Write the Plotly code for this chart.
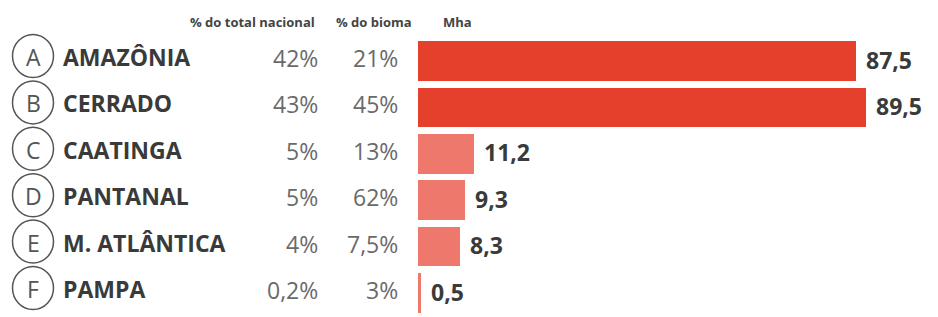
import plotly.graph_objects as go

# ---- data ----
letters = ["A", "B", "C", "D", "E", "F"]
biomes = ["AMAZÔNIA", "CERRADO", "CAATINGA", "PANTANAL", "M. ATLÂNTICA", "PAMPA"]
pct_national = ["42%", "43%", "5%", "5%", "4%", "0,2%"]
pct_biome = ["21%", "45%", "13%", "62%", "7,5%", "3%"]
mha = [87.5, 89.5, 11.2, 9.3, 8.3, 0.5]
headers = ["% do total nacional", "% do bioma", "Mha"]

# ---- style ----
# the page body has an 8px default margin, so the figure is drawn 8px smaller
OFF = 8
W, H = 938 - OFF, 317 - OFF
DARK = "#e4402c"
LIGHT = "#ee786c"
bar_colors = [DARK if v > 50 else LIGHT for v in mha]
FONT = "Open Sans"
TXT_DARK = "#3a3a3a"
TXT_GRAY = "#6a6a6a"


def px(x):
    """reference-page x pixel -> paper fraction"""
    return (x - OFF) / W


PITCH = 46.4          # px per row
ROW0 = 61 - OFF       # px of first row center (in figure)
BAR_X0 = 418 - OFF    # px where bars start (in figure)
SCALE = 5.0           # px per Mha

idx = list(range(len(biomes)))

fig = go.Figure()
fig.add_trace(go.Bar(
    x=mha, y=idx, orientation="h",
    marker=dict(color=bar_colors, line=dict(width=0)),
    width=0.85, hoverinfo="skip",
))

y_top = -ROW0 / PITCH
y_bot = (H - ROW0) / PITCH

ann = []
shapes = []
for i in idx:
    cy = i - 5 / PITCH
    r = 21.5 / PITCH
    shapes.append(dict(type="circle", xref="paper", yref="y",
                       x0=px(12.5), x1=px(53.5), y0=cy - r, y1=cy + r,
                       line=dict(color="#555555", width=1.5)))
    ann.append(dict(x=px(33), xref="paper", y=i, yref="y", yshift=4,
                    text=letters[i], showarrow=False, xanchor="center", yanchor="middle",
                    font=dict(family=FONT, size=23, color="#555555")))
    ann.append(dict(x=px(61), xref="paper", y=i, yref="y", yshift=4,
                    text=biomes[i], showarrow=False, xanchor="left", yanchor="middle",
                    font=dict(family=FONT, size=23, color=TXT_DARK, weight=700)))
    ann.append(dict(x=px(320), xref="paper", y=i, yref="y", yshift=3,
                    text=pct_national[i], showarrow=False, xanchor="right", yanchor="middle",
                    font=dict(family=FONT, size=23, color=TXT_GRAY)))
    ann.append(dict(x=px(400), xref="paper", y=i, yref="y", yshift=3,
                    text=pct_biome[i], showarrow=False, xanchor="right", yanchor="middle",
                    font=dict(family=FONT, size=23, color=TXT_GRAY)))
    ann.append(dict(x=mha[i], xref="x", y=i, yref="y", yshift=1.5, xshift=8,
                    text=f"{mha[i]:.1f}".replace(".", ","), showarrow=False,
                    xanchor="left", yanchor="middle",
                    font=dict(family=FONT, size=23, color=TXT_DARK, weight=700)))

hdr_x = [317, 334, 441]
hdr_anchor = ["right", "left", "left"]
for t, xp, a in zip(headers, hdr_x, hdr_anchor):
    ann.append(dict(x=px(xp), xref="paper", y=1 - (22 - OFF) / H, yref="paper",
                    text=t, showarrow=False, xanchor=a, yanchor="middle",
                    font=dict(family=FONT, size=13, color="#444444", weight=700)))

fig.update_layout(
    width=W, height=H, autosize=False,
    margin=dict(l=0, r=0, t=0, b=0),
    paper_bgcolor="white", plot_bgcolor="white",
    showlegend=False,
    xaxis=dict(domain=[BAR_X0 / W, 1], range=[0, (W - BAR_X0) / SCALE],
               visible=False, fixedrange=True),
    yaxis=dict(range=[y_bot, y_top], visible=False, fixedrange=True),
    annotations=ann, shapes=shapes,
    bargap=0,
)

fig.write_html("out.html")
